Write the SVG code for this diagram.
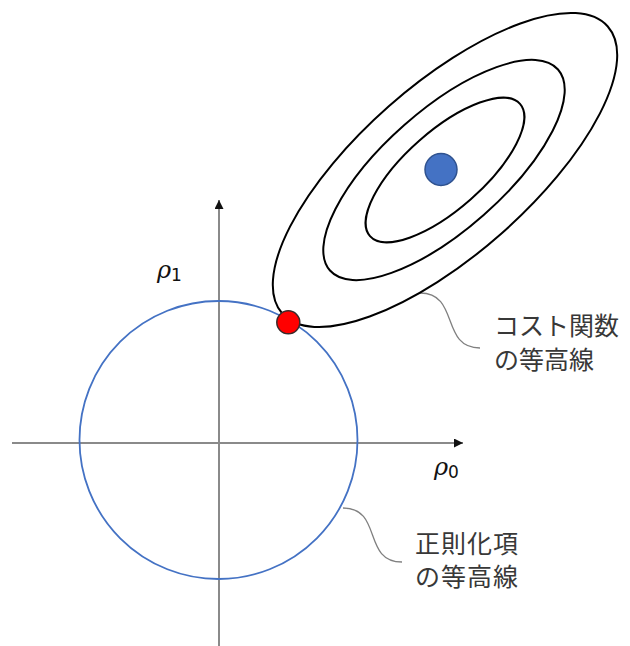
<svg xmlns="http://www.w3.org/2000/svg" width="630" height="646" viewBox="0 0 630 646">
<defs>
<marker id="arr" viewBox="0 0 10 10" refX="10" refY="5" markerWidth="9" markerHeight="9" markerUnits="userSpaceOnUse" orient="auto">
<path d="M0,0 L10,5 L0,10 Z" fill="#111"/>
</marker>
<style>
.axis{stroke:#8a8a8a;stroke-width:2;fill:none}
.contour{stroke:#000;stroke-width:2;fill:none}
.leader{stroke:#808080;stroke-width:1.3;fill:none}
.lbl{font-family:"Noto Sans CJK JP","Noto Sans",sans-serif;font-size:25px;fill:#383838}
.math{font-family:"DejaVu Serif","Liberation Serif",serif;font-style:italic;font-size:24px;fill:#111}
.sub{font-family:"DejaVu Sans","Liberation Sans",sans-serif;font-style:normal;font-size:17px}
</style>
</defs>
<rect width="630" height="646" fill="#fff"/>
<g id="connectors">
<line class="axis" x1="12" y1="443" x2="463" y2="443" marker-end="url(#arr)"/>
<line class="axis" x1="219" y1="646" x2="219" y2="200" marker-end="url(#arr)"/>
<path class="leader" d="M420,293 C460,293 440,348 480,348"/>
<path class="leader" d="M343,508 C383,508 362,562 402,562"/>
</g>
<g id="regularization-contour">
<circle cx="218.5" cy="440" r="139" fill="none" stroke="#4472C4" stroke-width="1.8"/>
</g>
<g id="cost-contours">
<ellipse class="contour" cx="445" cy="170" rx="217" ry="85" transform="rotate(-41.4 445 170)"/>
<ellipse class="contour" cx="444" cy="170" rx="152" ry="60" transform="rotate(-41.4 444 170)"/>
<ellipse class="contour" cx="445" cy="170" rx="100" ry="39" transform="rotate(-41.4 445 170)"/>
</g>
<g id="optimum">
<circle cx="441" cy="169.5" r="16" fill="#4472C4" stroke="#2F528F" stroke-width="1.5"/>
</g>
<g id="solution">
<circle cx="288.3" cy="322.3" r="11.5" fill="#FF0000" stroke="#3a2a2a" stroke-width="1.5"/>
</g>
<g id="label-rho1">
<text class="math" x="157" y="278">ρ<tspan class="sub" dy="3">1</tspan></text>
</g>
<g id="label-rho0">
<text class="math" x="434" y="475">ρ<tspan class="sub" dy="3">0</tspan></text>
</g>
<g id="label-cost">
<text class="lbl" x="494" y="335">コスト関数<tspan x="494" dy="34">の等高線</tspan></text>
</g>
<g id="label-reg">
<text class="lbl" x="415" y="553" letter-spacing="1">正則化項<tspan x="415" dy="33">の等高線</tspan></text>
</g>
</svg>
